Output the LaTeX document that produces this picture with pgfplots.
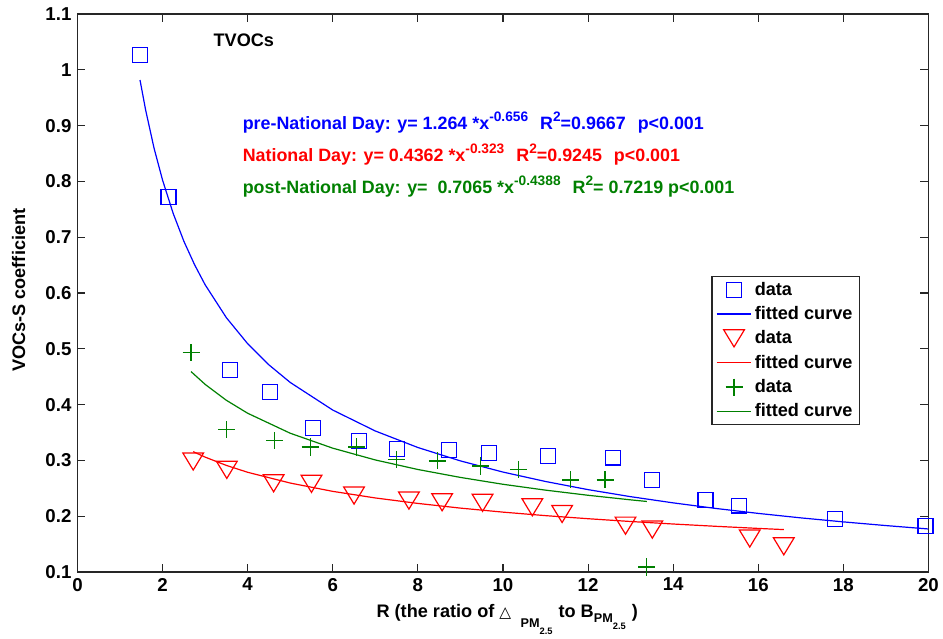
\documentclass[border=0pt]{standalone}
\usepackage{pgfplots}
\pgfplotsset{compat=1.18}
\usepackage{fontspec}
\setmainfont{Liberation Sans}
\newfontfamily\dejavu{DejaVu Sans}
\definecolor{mblue}{rgb}{0,0,1}
\definecolor{mred}{rgb}{1,0,0}
\definecolor{mgreen}{rgb}{0,0.5,0}
\newcommand\F{\bfseries\fontsize{13.6}{16}\selectfont}
\newcommand\A{\bfseries\fontsize{13.4}{16}\selectfont}
\newcommand\T{\bfseries\fontsize{14}{16}\selectfont}
\newcommand\Fs{\fontsize{9.5}{11}\selectfont}
\newcommand\Fss{\fontsize{7}{8}\selectfont}
\newcommand\Sup[1]{\raisebox{6pt}{\fontsize{10.3}{12}\selectfont #1}}
\pgfdeclareplotmark{dtri}{%
  \pgfpathmoveto{\pgfqpoint{-1.15\pgfplotmarksize}{0.95\pgfplotmarksize}}%
  \pgfpathlineto{\pgfqpoint{1.15\pgfplotmarksize}{0.95\pgfplotmarksize}}%
  \pgfpathlineto{\pgfqpoint{0pt}{-0.95\pgfplotmarksize}}%
  \pgfpathclose\pgfusepathqstroke}
\begin{document}
\begin{tikzpicture}
\begin{axis}[
  scale only axis, width=638.25pt, height=418.5pt,
  xmin=0, xmax=20, ymin=0.1, ymax=1.1,
  xtick={0,2,4,6,8,10,12,14,16,18,20},
  ytick={0.1,0.2,0.3,0.4,0.5,0.6,0.7,0.8,0.9,1,1.1},
  tick align=inside, major tick length=6pt,
  axis line style={black!85, line width=0.8pt},
  every tick/.style={black!85, line width=0.8pt},
  /pgf/number format/assume math mode=true,
  ticklabel style={font=\T},
  xticklabel style={yshift=-1pt},
  yticklabel style={xshift=-1pt},
  font=\F,
  xlabel={R (the ratio of {\dejavu\fontsize{11.5}{12}\selectfont △}\hspace{7pt}\raisebox{-7.5pt}{\Fs PM\raisebox{-5.5pt}{\Fss 2.5}}\hspace{4.5pt}to B\raisebox{-4pt}{\Fs PM\raisebox{-5.5pt}{\Fss 2.5}}\hspace{4.5pt})},
  xlabel style={at={(axis description cs:0.505,-0.081)}, anchor=base},
  ylabel={VOCs-S coefficient},
  ylabel style={at={(axis description cs:-0.069,0.505)}, anchor=center},
  legend cell align=left,
  legend style={at={(0.745,0.53)}, anchor=north west, draw=black!85, line width=0.8pt, fill=white, font=\F, inner xsep=3pt, inner ysep=2pt, row sep=2.9pt},
  legend image code/.code={\draw[mark repeat=2,mark phase=2,line width=0.9pt] plot coordinates {(0cm,0cm) (0.46cm,0cm) (0.92cm,0cm)};},
]
\coordinate (bl) at (rel axis cs:0,0);
\coordinate (tr) at (rel axis cs:1,1);
% pre-National Day
\addplot[only marks, mark=square, mark size=5.6pt, color=mblue, mark options={line width=0.9pt}] coordinates {
(1.47,1.027) (2.14,0.772) (3.58,0.462) (4.52,0.423) (5.53,0.358) (6.62,0.335) (7.51,0.320) (8.74,0.318) (9.67,0.313) (11.05,0.308) (12.58,0.305) (13.51,0.265) (14.76,0.229) (15.55,0.219) (17.81,0.195) (19.93,0.182)};
\addlegendentry{data}
\addplot[no marks, color=mblue, line width=0.9pt] coordinates {
(1.47,0.9817) (1.6,0.9287) (1.8,0.8595) (2,0.8023) (2.25,0.7425) (2.5,0.6929) (2.75,0.6510) (3,0.6148) (3.5,0.5557) (4,0.5091) (4.5,0.4712) (5,0.4397) (6,0.3902) (7,0.3527) (8,0.3231) (9,0.2991) (10,0.2791) (11,0.2622) (12,0.2476) (13,0.2350) (14,0.2239) (15,0.2139) (16,0.2050) (17,0.1970) (18,0.1898) (19,0.1832) (20,0.1771)};
\addlegendentry{fitted curve}
% National Day
\addplot[only marks, mark=dtri, mark size=6.75pt, color=mred, mark options={line width=0.9pt}] coordinates {
(2.72,0.298) (3.51,0.283) (4.61,0.259) (5.50,0.258) (6.50,0.237) (7.79,0.228) (8.57,0.225) (9.52,0.224) (10.69,0.216) (11.39,0.204) (12.88,0.183) (13.51,0.176) (15.80,0.160) (16.60,0.146)};
\addlegendentry{data}
\addplot[no marks, color=mred, line width=0.9pt] coordinates {
(2.72,0.3157) (3,0.3059) (3.5,0.2910) (4,0.2787) (5,0.2594) (6,0.2445) (7,0.2327) (8,0.2229) (9,0.2145) (10,0.2073) (11,0.2010) (12,0.1955) (13,0.1905) (14,0.1860) (15,0.1819) (16,0.1781) (16.6,0.1760)};
\addlegendentry{fitted curve}
% post-National Day
\addplot[only marks, mark=+, mark size=6.4pt, color=mgreen, mark options={line width=0.9pt}] coordinates {
(2.67,0.493) (3.51,0.355) (4.64,0.335) (5.47,0.324) (6.56,0.324) (7.50,0.302) (8.46,0.299) (9.48,0.290) (10.37,0.284) (11.59,0.265) (12.40,0.265) (13.38,0.109)};
\addlegendentry{data}
\addplot[no marks, color=mgreen, line width=0.9pt] coordinates {
(2.67,0.4591) (3,0.4363) (3.5,0.4077) (4,0.3845) (5,0.3487) (6,0.3219) (7,0.3008) (8,0.2837) (9,0.2695) (10,0.2572) (11,0.2467) (12,0.2375) (13,0.2293) (13.38,0.2264)};
\addlegendentry{fitted curve}
\node[anchor=center, font=\F] at (axis cs:3.91,1.0525) {TVOCs};
\node[anchor=base west, font=\A, color=mblue, inner sep=0pt] at (axis cs:3.88,0.8925) {pre-National Day: y= 1.264 *x\Sup{-0.656}\hspace{9pt}R\Sup{2}=0.9667\hspace{9pt}p<0.001};
\node[anchor=base west, font=\A, color=mred, inner sep=0pt] at (axis cs:3.88,0.8357) {National Day: y= 0.4362 *x\Sup{-0.323}\hspace{9pt}R\Sup{2}=0.9245\hspace{9pt}p<0.001};
\node[anchor=base west, font=\A, color=mgreen, inner sep=0pt] at (axis cs:3.88,0.7778) {post-National Day: y=\ \ 0.7065 *x\Sup{-0.4388}\hspace{9pt}R\Sup{2}= 0.7219 p<0.001};
\end{axis}
\pgfresetboundingbox
\path[use as bounding box] ([shift={(-58.1pt,-50.25pt)}]bl) rectangle ([shift={(10.9pt,10.5pt)}]tr);
\end{tikzpicture}
\end{document}
